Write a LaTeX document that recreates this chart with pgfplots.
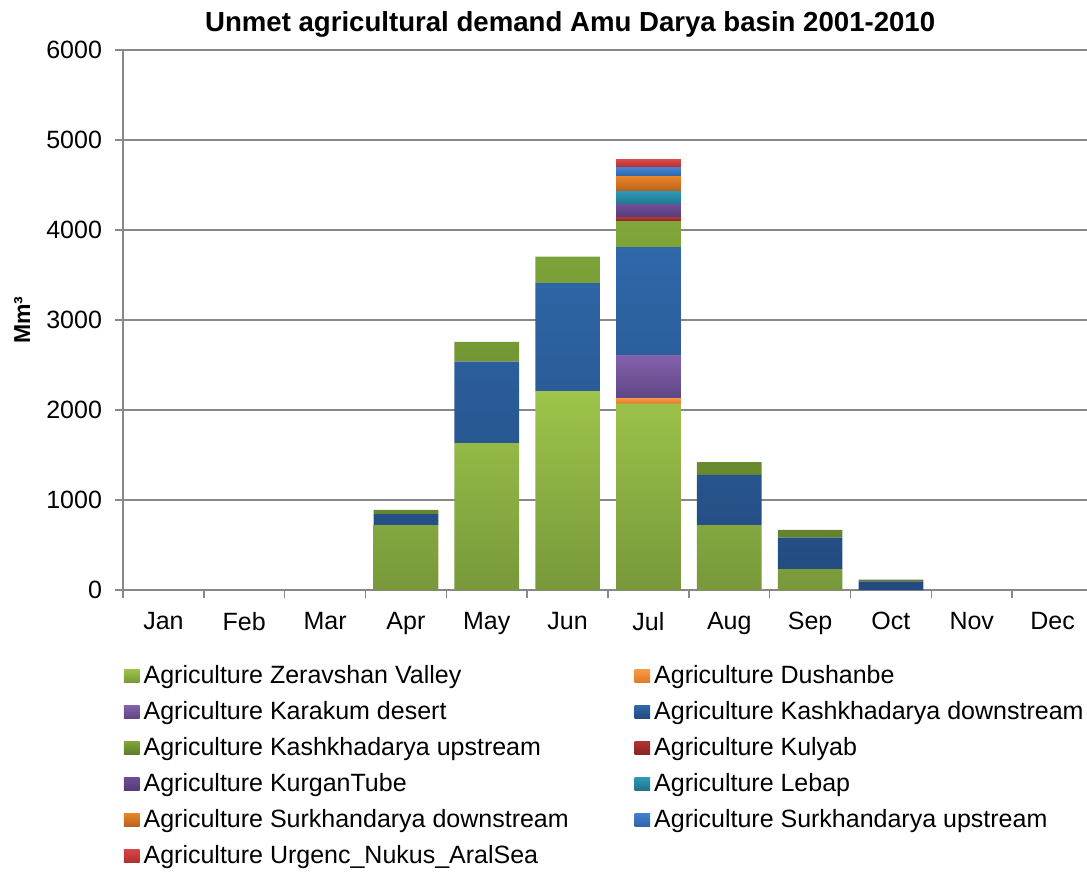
\documentclass[border=0pt]{standalone}
\usepackage{fontspec}
\setmainfont{Liberation Sans}
\usepackage{pgfplots}
\pgfplotsset{compat=1.18}

\definecolor{gridgray}{HTML}{888888}
\definecolor{zerT}{HTML}{9DC44A}\definecolor{zerB}{HTML}{78983A}
\definecolor{dusT}{HTML}{F99B4A}\definecolor{dusB}{HTML}{E07A28}
\definecolor{karT}{HTML}{8462AC}\definecolor{karB}{HTML}{5E4785}
\definecolor{kdnT}{HTML}{3068AA}\definecolor{kdnB}{HTML}{224A7E}
\definecolor{kupT}{HTML}{80A63A}\definecolor{kupB}{HTML}{5F7D2A}
\definecolor{kulT}{HTML}{B03434}\definecolor{kulB}{HTML}{8A2424}
\definecolor{kurT}{HTML}{6E4E96}\definecolor{kurB}{HTML}{553A78}
\definecolor{lebT}{HTML}{2C9AB8}\definecolor{lebB}{HTML}{22728A}
\definecolor{sdnT}{HTML}{EA8628}\definecolor{sdnB}{HTML}{B8621C}
\definecolor{supT}{HTML}{4282D0}\definecolor{supB}{HTML}{2F66A8}
\definecolor{urgT}{HTML}{D84646}\definecolor{urgB}{HTML}{B03030}

\begin{document}
\begin{tikzpicture}
\path[use as bounding box] (-61.5pt,-141.5pt) rectangle (482pt,295pt);
\begin{axis}[
  scale only axis,
  width=485pt, height=270pt,
  xmin=-0.5, xmax=11.5,
  ymin=0, ymax=6000,
  ytick={0,1000,...,6000},
  xtick={-0.5,0.5,...,11.5},
  xticklabels={Jan,Feb,Mar,Apr,May,Jun,Jul,Aug,Sep,Oct,Nov,Dec},
  x tick label as interval,
  ybar stacked,
  bar width=0.8,
  axis x line*=bottom,
  axis y line*=left,
  axis line style={gridgray, line width=0.7pt},
  tick style={gridgray, line width=0.7pt},
  tick align=outside,
  major tick length=4pt,
  ymajorgrids,
  grid style={gridgray, line width=0.7pt},
  /pgf/number format/assume math mode=true,
  /pgf/number format/1000 sep={},
  ticklabel style={font=\fontsize{12.5}{15}\selectfont},
  yticklabel style={xshift=-3pt},
  xticklabel style={yshift=-3.5pt},
  title={Unmet agricultural demand Amu Darya basin 2001-2010},
  title style={font=\bfseries\fontsize{13.8}{16}\selectfont, at={(axis description cs:0.461,1)}, anchor=base, yshift=3.3pt},
  ylabel={Mm³},
  ylabel style={font=\bfseries\fontsize{11.5}{14}\selectfont, at={(axis description cs:-0.104,0.5)}, anchor=center},
  legend columns=2,
  legend cell align=left,
  legend image code/.code={\path[#1,draw=none] (0pt,-3.8pt) rectangle (7.8pt,2.9pt);},
  legend style={at={(axis description cs:0,0)}, anchor=north west, xshift=0.5pt, yshift=-33.4pt,
    draw=none, fill=none, inner sep=0pt, outer sep=0pt, column sep=0pt, row sep=0pt,
    font=\fontsize{12.5}{15}\selectfont,
    nodes={inner sep=2pt, text height=11.3pt, text depth=2.7pt}},
]
% Apr..Oct = 3..9
\addplot[draw=none, top color=zerT, bottom color=zerB] coordinates {(3,722) (4,1633) (5,2211) (6,2070) (7,722) (8,233) (9,0)};
\addlegendentry{\makebox[243.5pt][l]{Agriculture Zeravshan Valley}}
\addplot[draw=none, top color=dusT, bottom color=dusB] coordinates {(3,0) (4,0) (5,0) (6,63) (7,0) (8,0) (9,0)};
\addlegendentry{Agriculture Dushanbe}
\addplot[draw=none, top color=karT, bottom color=karB] coordinates {(3,0) (4,0) (5,0) (6,478) (7,0) (8,0) (9,0)};
\addlegendentry{\makebox[243.5pt][l]{Agriculture Karakum desert}}
\addplot[draw=none, top color=kdnT, bottom color=kdnB] coordinates {(3,122) (4,904) (5,1200) (6,1200) (7,556) (8,348) (9,95)};
\addlegendentry{Agriculture Kashkhadarya downstream}
\addplot[draw=none, top color=kupT, bottom color=kupB] coordinates {(3,45) (4,219) (5,293) (6,289) (7,144) (8,86) (9,20)};
\addlegendentry{\makebox[243.5pt][l]{Agriculture Kashkhadarya upstream}}
\addplot[draw=none, top color=kulT, bottom color=kulB] coordinates {(3,0) (4,0) (5,0) (6,37) (7,0) (8,0) (9,0)};
\addlegendentry{Agriculture Kulyab}
\addplot[draw=none, top color=kurT, bottom color=kurB] coordinates {(3,0) (4,0) (5,0) (6,141) (7,0) (8,0) (9,0)};
\addlegendentry{\makebox[243.5pt][l]{Agriculture KurganTube}}
\addplot[draw=none, top color=lebT, bottom color=lebB] coordinates {(3,0) (4,0) (5,0) (6,155) (7,0) (8,0) (9,0)};
\addlegendentry{Agriculture Lebap}
\addplot[draw=none, top color=sdnT, bottom color=sdnB] coordinates {(3,0) (4,0) (5,0) (6,167) (7,0) (8,0) (9,0)};
\addlegendentry{\makebox[243.5pt][l]{Agriculture Surkhandarya downstream}}
\addplot[draw=none, top color=supT, bottom color=supB] coordinates {(3,0) (4,0) (5,0) (6,92) (7,0) (8,0) (9,0)};
\addlegendentry{Agriculture Surkhandarya upstream}
\addplot[draw=none, top color=urgT, bottom color=urgB] coordinates {(3,0) (4,0) (5,0) (6,86) (7,0) (8,0) (9,0)};
\addlegendentry{\makebox[243.5pt][l]{Agriculture Urgenc\_Nukus\_AralSea}}
\end{axis}
\end{tikzpicture}
\end{document}
